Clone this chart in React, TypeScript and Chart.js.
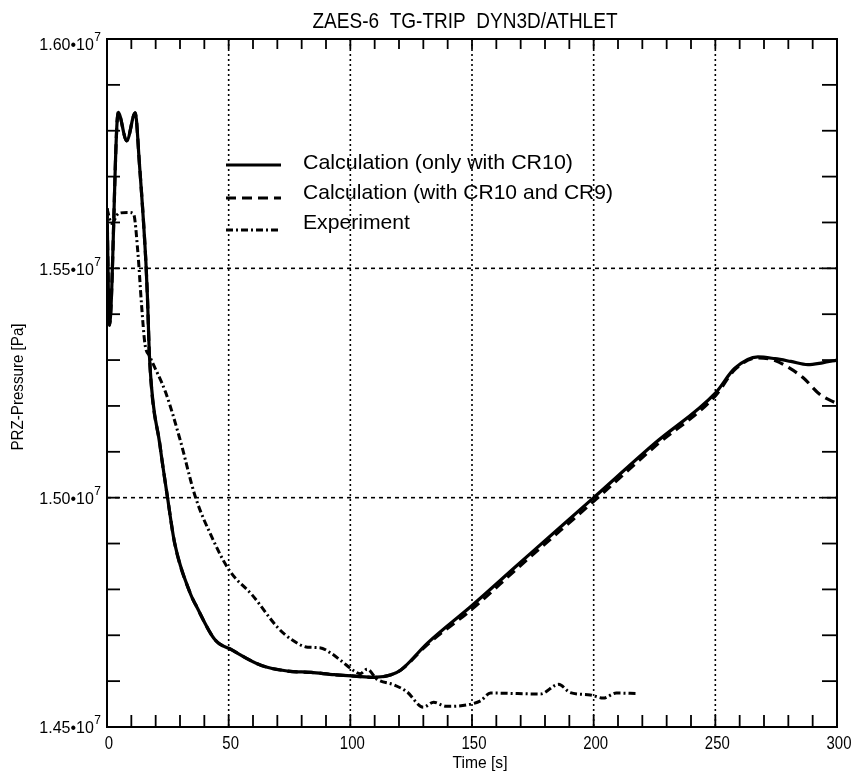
import React, { useEffect, useRef } from "react";
import { Chart, registerables } from "chart.js";

Chart.register(...registerables);

// ---------- texts ----------
const TITLE = "ZAES-6  TG-TRIP  DYN3D/ATHLET";
const X_TITLE = "Time [s]";
const Y_TITLE = "PRZ-Pressure [Pa]";
const SERIES_LABELS = [
  "Calculation (only with CR10)",
  "Calculation (with CR10 and CR9)",
  "Experiment",
];

// ---------- axes ----------
const X_MIN = 0;
const X_MAX = 300;
const X_MINOR = 10;
const Y_MIN = 1.45e7;
const Y_MAX = 1.6e7;
const Y_MINOR = 1e5;
const xGridValues = [50, 100, 150, 200, 250];
const yGridValues = [1.5e7, 1.55e7];
const xTickValues = [0, 50, 100, 150, 200, 250, 300];
const xTickLabels = ["0", "50", "100", "150", "200", "250", "300"];
const yTickValues = [1.45e7, 1.5e7, 1.55e7, 1.6e7];
const yTickMantissas = ["1.45", "1.50", "1.55", "1.60"]; // × 10^7

// ---------- data (time in s, pressure in units of 1e7 Pa) ----------
const solidTime = [0, 1, 4.6, 8.1, 11.6, 13.3, 16, 16.6, 17.5, 21.8, 24.8, 27.8, 34.4, 36.4, 44.4, 51.3, 63.5, 74.2, 83.9, 93.4, 101.6, 109.7, 116.8, 120.9, 131.7, 150, 168, 175, 200, 225, 250, 258, 267.5, 274.5, 281, 288, 294, 300];
const solidPressure = [1.5631, 1.5376, 1.584, 1.5778, 1.5839, 1.573, 1.5512, 1.544, 1.5303, 1.5113, 1.5003, 1.4901, 1.4789, 1.4767, 1.469, 1.4668, 1.4634, 1.4622, 1.4619, 1.4614, 1.4611, 1.4608, 1.4614, 1.4625, 1.4683, 1.4765, 1.485, 1.4883, 1.5, 1.5118, 1.5228, 1.5282, 1.5307, 1.5303, 1.5297, 1.529, 1.5294, 1.53];

const dashedTime = [0, 1, 4.6, 8.1, 11.6, 13.3, 16, 16.6, 17.5, 21.8, 24.8, 27.8, 34.4, 36.4, 44.4, 51.3, 63.5, 74.2, 83.9, 93.4, 101.6, 109.7, 116.8, 120.9, 131.7, 150, 168, 175, 200, 225, 250, 258, 267.5, 274.5, 280, 286, 293, 300];
const dashedPressure = [1.5631, 1.5376, 1.584, 1.5778, 1.5839, 1.573, 1.5512, 1.544, 1.5303, 1.5113, 1.5003, 1.4901, 1.4789, 1.4767, 1.469, 1.4668, 1.4634, 1.4622, 1.4619, 1.4614, 1.4611, 1.4608, 1.4614, 1.4625, 1.468, 1.4757, 1.4843, 1.4876, 1.4992, 1.5111, 1.5222, 1.5279, 1.5305, 1.5299, 1.5284, 1.5262, 1.5225, 1.5205];

const expTime = [0, 1.9, 4.8, 8.9, 10.9, 12.7, 14.2, 15.6, 17.5, 24.2, 30, 36.3, 43, 50.2, 59.8, 70.3, 76, 82.5, 87.4, 92.3, 96.3, 101.6, 104, 106.9, 111, 117.9, 123.2, 130, 134.2, 139.5, 147.7, 153.5, 157.6, 178.1, 185.6, 190.4, 198.6, 203.9, 209.3, 218.3];
const expPressure = [1.563, 1.5598, 1.562, 1.5622, 1.5619, 1.5534, 1.542, 1.5335, 1.5309, 1.5228, 1.5127, 1.5002, 1.4915, 1.4842, 1.4787, 1.4716, 1.469, 1.4674, 1.4673, 1.466, 1.4644, 1.4622, 1.4616, 1.4626, 1.4604, 1.4592, 1.4577, 1.4543, 1.4554, 1.4545, 1.4548, 1.4557, 1.4574, 1.4572, 1.4593, 1.4575, 1.457, 1.4563, 1.4574, 1.4573];

const toPoints = (t: number[], p: number[]) => t.map((v, i) => ({ x: v, y: p[i] * 1e7 }));

const FAMILY = '"Liberation Sans", Arial, Helvetica, sans-serif';

function drawText(
  ctx: CanvasRenderingContext2D,
  text: string,
  x: number,
  y: number,
  size: number,
  align: "left" | "center" | "right",
  hs: number
) {
  ctx.save();
  ctx.font = `${size}px ${FAMILY}`;
  ctx.textBaseline = "middle";
  ctx.textAlign = "left";
  const w = ctx.measureText(text).width * hs;
  const x0 = align === "left" ? x : align === "center" ? x - w / 2 : x - w;
  ctx.translate(x0, y);
  ctx.scale(hs, 1);
  ctx.fillStyle = "#000";
  ctx.fillText(text, 0, 0);
  ctx.restore();
  return w;
}

function fitText(
  ctx: CanvasRenderingContext2D,
  text: string,
  x: number,
  y: number,
  size: number,
  width: number,
  align: "left" | "center" | "right"
) {
  ctx.save();
  ctx.font = `${size}px ${FAMILY}`;
  const w = ctx.measureText(text).width;
  ctx.restore();
  return drawText(ctx, text, x, y, size, align, width / w);
}

function seg(ctx: CanvasRenderingContext2D, x1: number, y1: number, x2: number, y2: number) {
  ctx.beginPath();
  ctx.moveTo(x1, y1);
  ctx.lineTo(x2, y2);
  ctx.stroke();
}

const framePlugin = {
  id: "frameAndDecor",
  beforeDatasetsDraw(chart: any) {
    const { ctx, chartArea: a, scales } = chart;
    const xs = scales.x;
    const ys = scales.y;
    ctx.save();
    ctx.strokeStyle = "#000";
    ctx.lineWidth = 1.6;
    ctx.setLineDash([2, 3]);
    for (const v of xGridValues) {
      const px = xs.getPixelForValue(v);
      seg(ctx, px, a.top, px, a.bottom);
    }
    ctx.setLineDash([4, 4]);
    for (const v of yGridValues) {
      const py = ys.getPixelForValue(v);
      seg(ctx, a.left, py, a.right, py);
    }
    ctx.restore();
  },
  afterDraw(chart: any) {
    const { ctx, chartArea: a, scales } = chart;
    const xs = scales.x;
    const ys = scales.y;
    ctx.save();
    ctx.strokeStyle = "#000";
    ctx.setLineDash([]);
    // frame
    ctx.lineWidth = 2;
    ctx.strokeRect(a.left, a.top, a.right - a.left, a.bottom - a.top);
    // inward ticks
    ctx.lineWidth = 1.8;
    const nx = Math.round((X_MAX - X_MIN) / X_MINOR);
    for (let i = 1; i < nx; i++) {
      const px = xs.getPixelForValue(X_MIN + i * X_MINOR);
      seg(ctx, px, a.bottom, px, a.bottom - 12);
      seg(ctx, px, a.top, px, a.top + 10);
    }
    const ny = Math.round((Y_MAX - Y_MIN) / Y_MINOR);
    for (let i = 1; i < ny; i++) {
      const py = ys.getPixelForValue(Y_MIN + i * Y_MINOR);
      seg(ctx, a.left, py, a.left + 13, py);
      seg(ctx, a.right, py, a.right - 15, py);
    }
    // x tick labels
    xTickValues.forEach((v, i) => {
      drawText(ctx, xTickLabels[i], xs.getPixelForValue(v) + 2, a.bottom + 17, 18, "center", 0.83);
    });
    // y tick labels  (mantissa•10^7)
    yTickValues.forEach((v, i) => {
      const py = ys.getPixelForValue(v) + (i === yTickValues.length - 1 ? 7 : 2);
      ctx.save();
      ctx.font = `12px ${FAMILY}`;
      const supW = ctx.measureText("7").width;
      ctx.restore();
      const right = a.left - 6;
      drawText(ctx, "7", right - supW, py - 8, 12, "left", 1);
      drawText(ctx, `${yTickMantissas[i]}\u202210`, right - supW - 0.5, py, 16, "right", 1);
    });
    // titles
    fitText(ctx, TITLE, 465, 22, 22, 305, "center");
    fitText(ctx, X_TITLE, 480, 763, 17, 55, "center");
    ctx.save();
    ctx.translate(19, 387);
    ctx.rotate(-Math.PI / 2);
    fitText(ctx, Y_TITLE, 0, 0, 16, 127, "center");
    ctx.restore();
    // legend
    const lineY = [165, 198, 230];
    const textY = [163, 193, 223];
    const textW = [270, 310, 107];
    chart.data.datasets.forEach((ds: any, i: number) => {
      ctx.save();
      ctx.lineWidth = ds.borderWidth;
      ctx.setLineDash(ds.borderDash || []);
      seg(ctx, 226, lineY[i], 281, lineY[i]);
      ctx.restore();
      fitText(ctx, SERIES_LABELS[i], 303, textY[i], 21, textW[i], "left");
    });
    ctx.restore();
  },
};

export default function App() {
  const canvasRef = useRef<HTMLCanvasElement | null>(null);

  useEffect(() => {
    if (!canvasRef.current) return;
    const chart = new Chart(canvasRef.current, {
      type: "line",
      data: {
        datasets: [
          {
            label: SERIES_LABELS[0],
            data: toPoints(solidTime, solidPressure),
            borderColor: "#000",
            borderWidth: 3.2,
            borderDash: [],
            pointRadius: 0,
            cubicInterpolationMode: "monotone",
          },
          {
            label: SERIES_LABELS[1],
            data: toPoints(dashedTime, dashedPressure),
            borderColor: "#000",
            borderWidth: 3.2,
            borderDash: [10, 6],
            pointRadius: 0,
            cubicInterpolationMode: "monotone",
          },
          {
            label: SERIES_LABELS[2],
            data: toPoints(expTime, expPressure),
            borderColor: "#000",
            borderWidth: 3,
            borderDash: [7, 3, 2, 3],
            pointRadius: 0,
            cubicInterpolationMode: "monotone",
          },
        ],
      },
      options: {
        animation: false,
        responsive: true,
        maintainAspectRatio: false,
        devicePixelRatio: 1,
        layout: { padding: { top: 39, right: 25, left: 0, bottom: 0 } },
        plugins: {
          legend: { display: false },
          tooltip: { enabled: false },
          title: { display: false },
        },
        scales: {
          x: {
            type: "linear",
            min: X_MIN,
            max: X_MAX,
            ticks: { display: false },
            grid: { display: false, drawTicks: false },
            border: { display: false },
            afterFit: (s: any) => {
              s.height = 48;
            },
          },
          y: {
            type: "linear",
            min: Y_MIN,
            max: Y_MAX,
            ticks: { display: false },
            grid: { display: false, drawTicks: false },
            border: { display: false },
            afterFit: (s: any) => {
              s.width = 107;
            },
          },
        },
      },
      plugins: [framePlugin],
    } as any);
    return () => chart.destroy();
  }, []);

  return (
    <div style={{ position: "absolute", left: 0, top: 0, width: 862, height: 775, background: "#fff" }}>
      <canvas ref={canvasRef} />
    </div>
  );
}
